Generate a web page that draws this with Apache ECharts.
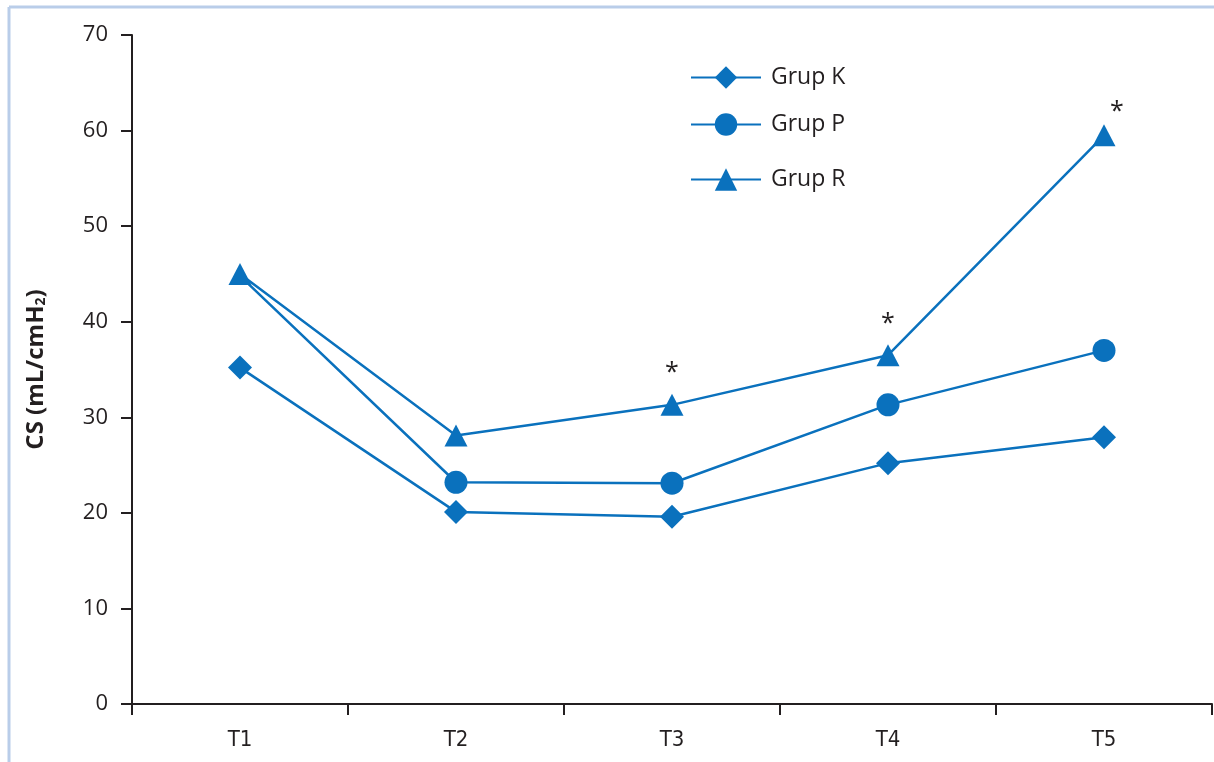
<!DOCTYPE html>
<html>
<head>
<meta charset="utf-8">
<style>
  html, body { margin: 0; padding: 0; background: #fff; }
  #chart { width: 1214px; height: 762px; }
</style>
<script src="https://cdn.jsdelivr.net/npm/echarts@6/dist/echarts.min.js"></script>
</head>
<body>
<div id="chart"></div>
<script>
// Time points and static compliance (mL/cmH2O) per group
const categories = ['T1', 'T2', 'T3', 'T4', 'T5'];
const grupK = [35.2, 20.1, 19.6, 25.2, 27.9];
const grupP = [44.8, 23.2, 23.1, 31.3, 37.0];
const grupR = [45.0, 28.1, 31.3, 36.5, 59.5];
// Time points marked as significant for Grup R
const significant = [false, false, true, true, true];
const yTicks = [0, 10, 20, 30, 40, 50, 60, 70];

const blue = '#0a71bd';
const ink = '#231f20';
const condensed = "'DejaVu Sans Condensed', 'Roboto Condensed', 'Liberation Sans Narrow', Roboto, sans-serif";

const chart = echarts.init(document.getElementById('chart'), null, { renderer: 'canvas' });

function legendAt(name, top) {
  return {
    data: [name],
    left: 685,
    top: top,
    itemWidth: 70,
    itemHeight: 28,
    textStyle: { color: ink, fontSize: 23, fontFamily: 'Open Sans', padding: [0, 0, 0, 5] },
    selectedMode: false
  };
}

const rData = grupR.map((v, i) => {
  if (!significant[i]) return v;
  return {
    value: v,
    label: {
      show: true,
      formatter: '*',
      position: 'top',
      distance: i === 4 ? 0 : 8,
      offset: i === 4 ? [13, 0] : [0, 0],
      color: ink,
      fontSize: 25,
      fontFamily: 'Open Sans'
    }
  };
});

// Grup P shares its first point with Grup R; only the triangle shows there
const pData = grupP.map((v, i) => (i === 0 ? { value: v, symbolSize: 0 } : v));

chart.setOption({
  animation: false,
  backgroundColor: '#fff',
  graphic: [
    { type: 'line', shape: { x1: 9, y1: 7, x2: 1214, y2: 7 }, style: { stroke: '#b9cde9', lineWidth: 3 }, silent: true },
    { type: 'line', shape: { x1: 9, y1: 7, x2: 9, y2: 762 }, style: { stroke: '#b9cde9', lineWidth: 3 }, silent: true }
  ],
  legend: [legendAt('Grup K', 61), legendAt('Grup P', 108), legendAt('Grup R', 163)],
  grid: { left: 132, right: 2, top: 35, bottom: 58, containLabel: false },
  xAxis: {
    type: 'category',
    data: categories,
    boundaryGap: true,
    axisLine: { lineStyle: { color: ink, width: 2 } },
    axisTick: { show: true, length: 11, inside: false, lineStyle: { color: ink, width: 2 } },
    axisLabel: { color: ink, fontSize: 22, fontFamily: condensed, margin: 25 }
  },
  yAxis: {
    type: 'value',
    min: 0,
    max: 70,
    interval: 10,
    name: '{a|CS (mL/cmH}{s|2}{a|)}',
    nameLocation: 'middle',
    nameRotate: 90,
    nameGap: 84,
    nameTextStyle: {
      rich: {
        a: { fontSize: 24, fontWeight: 'bold', color: ink, fontFamily: 'Open Sans' },
        s: { fontSize: 14, fontWeight: 'bold', color: ink, fontFamily: 'Open Sans', verticalAlign: 'bottom', padding: [10, 0, 0, 0] }
      }
    },
    axisLine: { show: true, lineStyle: { color: ink, width: 2 } },
    axisTick: { show: true, length: 11, lineStyle: { color: ink, width: 2 } },
    splitLine: { show: false },
    axisLabel: {
      color: ink, fontSize: 22, fontFamily: 'Open Sans', margin: 24,
      formatter: v => (yTicks.includes(v) ? String(v) : '')
    }
  },
  series: [
    {
      name: 'Grup K', type: 'line', data: grupK,
      symbol: 'diamond', symbolSize: [24, 24],
      lineStyle: { color: blue, width: 2.5 },
      itemStyle: { color: blue }
    },
    {
      name: 'Grup P', type: 'line', data: pData,
      symbol: 'circle', symbolSize: 23,
      lineStyle: { color: blue, width: 2.5 },
      itemStyle: { color: blue }
    },
    {
      name: 'Grup R', type: 'line', data: rData,
      symbol: 'triangle', symbolSize: [23, 22],
      lineStyle: { color: blue, width: 2.5 },
      itemStyle: { color: blue }
    }
  ]
});
</script>
</body>
</html>
